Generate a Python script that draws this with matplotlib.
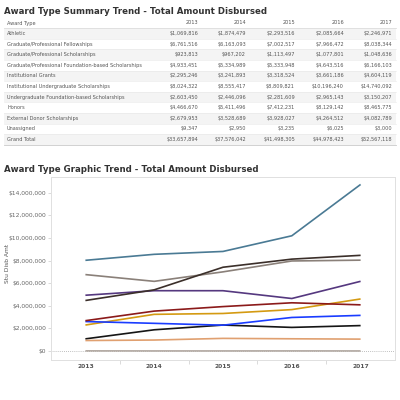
import matplotlib

matplotlib.use("Agg")
import matplotlib.pyplot as plt
from matplotlib.patches import Rectangle
from matplotlib.ticker import FuncFormatter, FixedLocator

YEARS = [2013, 2014, 2015, 2016, 2017]

AWARD_TYPES = [
    "Athletic",
    "Graduate/Professional Fellowships",
    "Graduate/Professional Scholarships",
    "Graduate/Professional Foundation-based Scholarships",
    "Institutional Grants",
    "Institutional Undergraduate Scholarships",
    "Undergraduate Foundation-based Scholarships",
    "Honors",
    "External Donor Scholarships",
    "Unassigned",
]

athletic = [1069816, 1874479, 2293516, 2085664, 2246971]
grad_fellow = [6761516, 6163093, 7002517, 7966472, 8038344]
grad_schol = [923813, 967202, 1113497, 1077801, 1048636]
grad_found = [4933451, 5334989, 5333948, 4643516, 6166103]
inst_grants = [2295246, 3241893, 3318524, 3661186, 4604119]
inst_ug = [8024322, 8555417, 8809821, 10196240, 14740092]
ug_found = [2603450, 2446096, 2281609, 2965143, 3150207]
honors = [4466670, 5411496, 7412231, 8129142, 8465775]
ext_donor = [2679953, 3528689, 3928027, 4264512, 4082789]
unassigned = [9347, 2950, 3235, 6025, 3000]
grand_total = [33657894, 37576042, 41498305, 44978423, 52567118]

SERIES = [athletic, grad_fellow, grad_schol, grad_found, inst_grants,
          inst_ug, ug_found, honors, ext_donor, unassigned]
COLORS = ["#151515", "#8a8079", "#e0a070", "#55387f", "#d49a12",
          "#4a7a94", "#1a3cff", "#3b2f2a", "#8b1a1a", "#b3aaa3"]

TXT = "#555555"
FS = 3.6

fig = plt.figure(figsize=(4, 4), dpi=100)

# overlay in pixel coordinates for titles + summary table
lay = fig.add_axes([0, 0, 1, 1])
lay.set_xlim(0, 400)
lay.set_ylim(400, 0)
lay.axis("off")

lay.text(4, 11, "Award Type Summary Trend - Total Amount Disbursed",
         fontsize=6.2, fontweight="bold", color="#333333", va="center")
lay.text(4, 169, "Award Type Graphic Trend - Total Amount Disbursed",
         fontsize=6.2, fontweight="bold", color="#333333", va="center")

col_x = [198, 246, 295, 344, 392]
row_h = 10.6
hdr_y = 23
lay.text(7, hdr_y, "Award Type", fontsize=FS, color=TXT, va="center")
for x, yr in zip(col_x, YEARS):
    lay.text(x, hdr_y, str(yr), fontsize=FS, color=TXT, va="center",
             ha="right")
lay.plot([4, 396], [hdr_y + 5, hdr_y + 5], color="#dddddd", lw=0.6)

rows = AWARD_TYPES + ["Grand Total"]
vals = SERIES + [grand_total]
for i, (name, v) in enumerate(zip(rows, vals)):
    yc = 33.5 + i * row_h
    if i % 2 == 0:
        lay.add_patch(Rectangle((4, yc - row_h / 2), 392, row_h,
                                facecolor="#f4f4f4", edgecolor="none"))
    lay.plot([4, 396], [yc + row_h / 2, yc + row_h / 2],
             color="#e6e6e6", lw=0.4)
    lay.text(7, yc, name, fontsize=FS, color=TXT, va="center")
    for x, val in zip(col_x, v):
        lay.text(x, yc, f"${val:,.0f}", fontsize=FS, color=TXT,
                 va="center", ha="right")
lay.plot([4, 396], [145, 145], color="#cccccc", lw=0.6)

lay.text(8, 263, "Stu Disb Amt", fontsize=4.3, color=TXT, rotation=90,
         ha="center", va="center")

# trend chart
ax = fig.add_axes([51 / 400, 40 / 400, 344 / 400, 183 / 400])
for s, c in zip(SERIES, COLORS):
    ax.plot(YEARS, s, color=c, lw=1.2, solid_capstyle="butt", zorder=3)
ax.axhline(0, color="#aaaaaa", lw=0.6, ls=(0, (1, 1.5)), zorder=2)

ax.set_xlim(2012.5, 2017.5)
ax.set_ylim(-800000, 15400000)
ax.set_yticks(range(0, 14000001, 2000000))
ax.yaxis.set_major_formatter(FuncFormatter(lambda v, p: f"${v:,.0f}"))
ax.set_xticks(YEARS)
ax.xaxis.set_minor_locator(FixedLocator([2013.5, 2014.5, 2015.5, 2016.5]))
ax.tick_params(axis="y", labelsize=4.3, colors="#cccccc", labelcolor="#666666",
               length=2, width=0.5, pad=1.5)
ax.tick_params(axis="x", which="major", length=0, labelsize=4.3,
               labelcolor="#555555", pad=3)
ax.tick_params(axis="x", which="minor", length=3, width=0.5,
               colors="#cccccc")
for lbl in ax.get_xticklabels():
    lbl.set_fontweight("bold")
for sp in ax.spines.values():
    sp.set_color("#e0e0e0")
    sp.set_linewidth(0.7)

fig.savefig("out.png", dpi=100)
